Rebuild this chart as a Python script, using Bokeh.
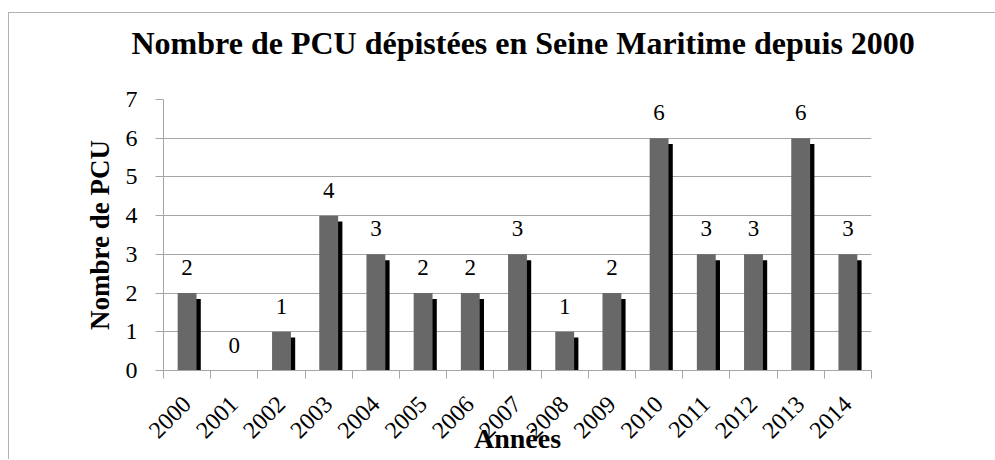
import numpy as np
from bokeh.plotting import figure
from bokeh.models import ColumnDataSource, LabelSet, FixedTicker, Range1d, Title
from bokeh.core.properties import value
from bokeh.embed import file_html
from bokeh.resources import INLINE

years = ["2000", "2001", "2002", "2003", "2004", "2005", "2006", "2007",
         "2008", "2009", "2010", "2011", "2012", "2013", "2014"]
counts = [2, 0, 1, 4, 3, 2, 2, 3, 1, 2, 6, 3, 3, 6, 3]
y_ticks = [0, 1, 2, 3, 4, 5, 6, 7]

title_text = "Nombre de PCU dépistées en Seine Maritime depuis 2000"
x_title = "Années"
y_title = "Nombre de PCU"

n = len(years)
idx = np.arange(n) + 0.5
cnt = np.array(counts, dtype=float)
shadow_dy = 0.15
shadow_dx = 0.09
src = ColumnDataSource(dict(
    x=idx, top=cnt, label=[str(c) for c in counts],
    sx=idx + shadow_dx, stop=np.where(cnt > 0, np.maximum(cnt - shadow_dy, 0), 0),
))

FONT = "Liberation Serif"

p = figure(width=987, height=447, output_backend="svg", toolbar_location=None,
           x_range=Range1d(0, n), y_range=Range1d(0, 7), title_location=None,
           min_border_left=154, min_border_right=125,
           min_border_top=86, min_border_bottom=90)
p.styles = {"border-left": "1px solid #b3b3b3", "border-top": "1px solid #b3b3b3",
            "margin-top": "12px", "margin-left": "8px"}

p.outline_line_color = None
p.background_fill_color = "white"
p.border_fill_color = "white"

# spacer between frame and title, then the title itself
spacer = Title(text=" ", text_font=FONT, text_font_size="20px", standoff=8)
p.add_layout(spacer, "above")
main_title = Title(text=title_text, text_font=FONT, text_font_size="32px",
                   text_font_style="bold", text_color="black", align="left",
                   offset=-32, vertical_align="top", standoff=10)
p.add_layout(main_title, "above")

# shadow then bar
p.vbar(x="sx", top="stop", bottom=0, width=0.4, source=src,
       fill_color="black", line_color=None)
p.vbar(x="x", top="top", bottom=0, width=0.4, source=src,
       fill_color="#686868", line_color=None)

labels = LabelSet(x="x", y="top", text="label", source=src, y_offset=18,
                  text_align="center", text_baseline="bottom",
                  text_font=value(FONT), text_font_size=value("23px"),
                  text_color="black")
p.add_layout(labels)

# x axis: labels at centers, ticks at boundaries (minor ticks)
p.xaxis.ticker = FixedTicker(ticks=list(idx), minor_ticks=list(np.arange(n + 1)))
p.xaxis.major_label_overrides = {float(v): y for v, y in zip(idx, years)}
p.xaxis.major_tick_out = 0
p.xaxis.major_tick_in = 0
p.xaxis.minor_tick_out = 8
p.xaxis.minor_tick_in = 0
p.xaxis.minor_tick_line_color = "#a6a6a6"
p.xaxis.axis_line_color = "#a6a6a6"
p.xaxis.major_label_orientation = np.pi / 4
p.xaxis.major_label_text_font = FONT
p.xaxis.major_label_text_font_size = "24px"
p.xaxis.major_label_text_color = "black"
p.xaxis.major_label_standoff = 22
p.xaxis.axis_label = x_title
p.xaxis.axis_label_text_font = FONT
p.xaxis.axis_label_text_font_style = "bold"
p.xaxis.axis_label_text_font_size = "28px"
p.xaxis.axis_label_text_color = "black"
p.xaxis.axis_label_standoff = -25

p.yaxis.ticker = FixedTicker(ticks=y_ticks)
p.yaxis.major_tick_out = 8
p.yaxis.major_tick_in = 0
p.yaxis.minor_tick_line_color = None
p.yaxis.axis_line_color = "#a6a6a6"
p.yaxis.major_tick_line_color = "#a6a6a6"
p.yaxis.major_label_text_font = FONT
p.yaxis.major_label_text_font_size = "24px"
p.yaxis.major_label_text_color = "black"
p.yaxis.major_label_standoff = 18
p.yaxis.axis_label = y_title
p.yaxis.axis_label_text_font = FONT
p.yaxis.axis_label_text_font_style = "bold"
p.yaxis.axis_label_text_font_size = "27px"
p.yaxis.axis_label_text_color = "black"
p.yaxis.axis_label_standoff = 8

p.xgrid.grid_line_color = None
p.ygrid.grid_line_color = "#a6a6a6"
p.ygrid.ticker = FixedTicker(ticks=y_ticks)

open("out.html", "w").write(file_html(p, INLINE))
